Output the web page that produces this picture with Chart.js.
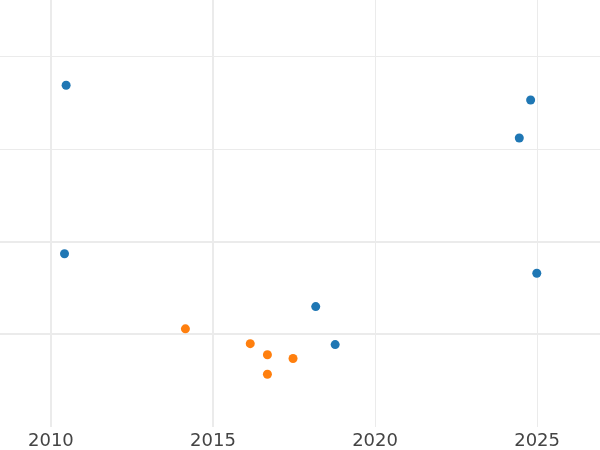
<!DOCTYPE html>
<html>
<head>
<meta charset="utf-8">
<script src="https://cdn.jsdelivr.net/npm/chart.js@4"></script>
<style>
  html, body { margin: 0; padding: 0; background: #fff; }
  #wrap { width: 600px; height: 450px; position: relative; }
</style>
</head>
<body>
<div id="wrap"><canvas id="chart"></canvas></div>
<script>
// series values
const blueX = [2010.47, 2010.42, 2024.80, 2024.45, 2024.99, 2018.17, 2018.77];
const blueY = [3.69, 1.87, 3.53, 3.12, 1.66, 1.30, 0.89];
const orangeX = [2014.15, 2016.15, 2016.68, 2016.68, 2017.47];
const orangeY = [1.06, 0.90, 0.78, 0.57, 0.74];

// tick positions
const xTicks = [2010, 2015, 2020, 2025];
const yTicks = [0, 1, 2, 3, 4];

const toPoints = (xs, ys) => xs.map((x, i) => ({ x: x, y: ys[i] }));

const gridColor = '#ebebeb';

new Chart(document.getElementById('chart').getContext('2d'), {
    type: 'scatter',
    data: {
        datasets: [
            {
                data: toPoints(blueX, blueY),
                backgroundColor: '#1f77b4',
                pointRadius: 4.5,
                pointBorderWidth: 0
            },
            {
                data: toPoints(orangeX, orangeY),
                backgroundColor: '#ff7f0e',
                pointRadius: 4.5,
                pointBorderWidth: 0
            }
        ]
    },
    options: {
        responsive: true,
        maintainAspectRatio: false,
        animation: false,
        layout: { padding: 0, autoPadding: false },
        plugins: {
            legend: { display: false },
            tooltip: { enabled: false }
        },
        scales: {
            x: {
                type: 'linear',
                min: 2008.43,
                max: 2026.94,
                afterBuildTicks: (axis) => {
                    axis.ticks = xTicks.map(v => ({ value: v }));
                },
                // keep the label strip the same height as the reference
                afterFit: (axis) => { axis.height = 23; },
                border: { display: false },
                grid: {
                    color: gridColor,
                    // older years drawn heavier, like the reference
                    lineWidth: (ctx) => (ctx.tick && ctx.tick.value < 2018 ? 2 : 1),
                    drawTicks: false
                },
                ticks: {
                    padding: 5,
                    color: '#444',
                    font: { family: 'DejaVu Sans', size: 18, lineHeight: 1 },
                    maxRotation: 0,
                    callback: (v) => String(v)
                }
            },
            y: {
                type: 'linear',
                min: 0,
                max: 4.61,
                afterBuildTicks: (axis) => {
                    axis.ticks = yTicks.map(v => ({ value: v }));
                },
                border: { display: false },
                grid: {
                    color: (ctx) => (ctx.tick && ctx.tick.value === 0 ? 'rgba(0,0,0,0)' : gridColor),
                    lineWidth: (ctx) => (ctx.tick && ctx.tick.value <= 2 ? 2 : 1),
                    drawTicks: false
                },
                ticks: { display: false }
            }
        }
    }
});
</script>
</body>
</html>
